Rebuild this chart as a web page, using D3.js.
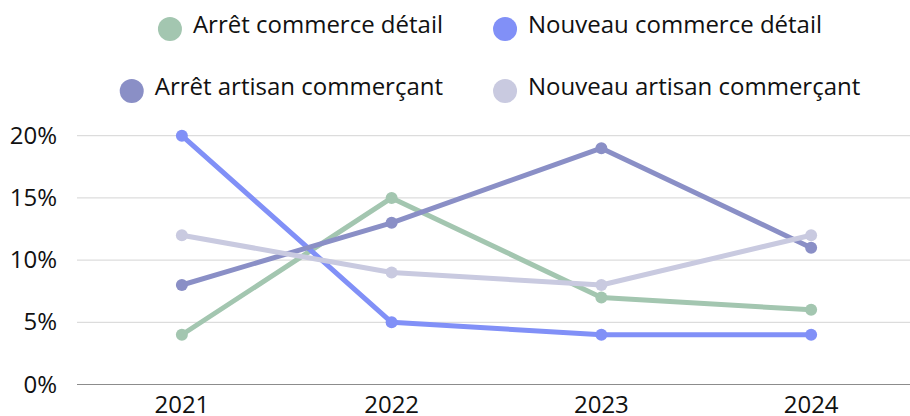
<!DOCTYPE html>
<html>
<head>
<meta charset="utf-8">
<script src="https://cdn.jsdelivr.net/npm/d3@7"></script>
<style>
  body { margin: 0; background: #fff; }
  svg { display: block; font-family: "Open Sans", "Noto Sans", sans-serif; }
</style>
</head>
<body>
<div class="container"></div>
<script>
const years = ['2021', '2022', '2023', '2024'];
const seriesNames = ['Arrêt commerce détail', 'Nouveau commerce détail', 'Arrêt artisan commerçant', 'Nouveau artisan commerçant'];
const arretCommerce = [4, 15, 7, 6];
const nouveauCommerce = [20, 5, 4, 4];
const arretArtisan = [8, 13, 19, 11];
const nouveauArtisan = [12, 9, 8, 12];
const yTicks = [0, 5, 10, 15, 20];
const colors = ['#a3c6b0', '#8190f7', '#8a8fc6', '#c9cae0'];

const series = [arretCommerce, nouveauCommerce, arretArtisan, nouveauArtisan]
  .map((values, i) => ({ name: seriesNames[i], color: colors[i], values: values }));

let width = 910,
    height = 416,
    margin = { top: 136, right: 0, bottom: 32, left: 77 };

let svg = d3.select('.container')
  .append('svg')
  .attr('width', width)
  .attr('height', height);

let xScale = d3.scaleBand()
  .domain(years)
  .range([margin.left, 916])
  .padding(0);

let yScale = d3.scaleLinear()
  .domain([0, 20])
  .range([384.5, 135.7]);

// grid lines
svg.append('g')
  .selectAll('line')
  .data(yTicks)
  .enter()
  .append('line')
  .attr('x1', margin.left)
  .attr('x2', width)
  .attr('y1', d => yScale(d))
  .attr('y2', d => yScale(d))
  .attr('stroke', d => d === 0 ? '#8c8c8c' : '#d4d4d4')
  .attr('stroke-width', d => d === 0 ? 1.2 : 1);

// y axis labels
let yAxis = d3.axisLeft(yScale)
  .tickValues(yTicks)
  .tickFormat(d => d + '%')
  .tickSize(0)
  .tickPadding(20);

svg.append('g')
  .attr('transform', `translate(${margin.left}, 0)`)
  .call(yAxis)
  .call(g => g.select('.domain').remove())
  .call(g => g.selectAll('text')
    .attr('fill', '#111')
    .style('font-size', '24px')
    .style('font-family', '"Open Sans", sans-serif'));

// x axis labels
let xAxis = d3.axisBottom(xScale)
  .tickSize(0)
  .tickPadding(11);

svg.append('g')
  .attr('transform', `translate(0, ${yScale(0)})`)
  .call(xAxis)
  .call(g => g.select('.domain').remove())
  .call(g => g.selectAll('text')
    .attr('fill', '#111')
    .style('font-size', '24px')
    .style('font-family', '"Open Sans", sans-serif'));

let line = d3.line()
  .x((d, i) => xScale(years[i]) + xScale.bandwidth() / 2)
  .y(d => yScale(d));

let lines = svg.append('g')
  .selectAll('g')
  .data(series)
  .enter()
  .append('g');

lines.append('path')
  .attr('d', d => line(d.values))
  .attr('fill', 'none')
  .attr('stroke', d => d.color)
  .attr('stroke-width', 5)
  .attr('stroke-linejoin', 'round');

lines.selectAll('circle')
  .data(d => d.values.map((v, i) => ({ v: v, i: i, color: d.color })))
  .enter()
  .append('circle')
  .attr('cx', d => xScale(years[d.i]) + xScale.bandwidth() / 2)
  .attr('cy', d => yScale(d.v))
  .attr('r', 6)
  .attr('fill', d => d.color);

// legend: two centered rows
let legendRows = [[0, 1], [2, 3]],
    rowY = [29, 91],
    centerX = 490,
    itemGap = 50,
    r = 12,
    textGap = 11;

legendRows.forEach((row, ri) => {
  let g = svg.append('g');
  let items = row.map(idx => {
    let item = g.append('g');
    item.append('circle')
      .attr('r', r)
      .attr('cx', r)
      .attr('cy', rowY[ri])
      .attr('fill', series[idx].color);
    let t = item.append('text')
      .attr('x', 2 * r + textGap)
      .attr('y', rowY[ri] + 4)
      .attr('fill', '#111')
      .style('font-size', '24px')
      .text(series[idx].name);
    return { item: item, w: 2 * r + textGap + t.node().getComputedTextLength() };
  });
  let total = d3.sum(items, d => d.w) + itemGap * (items.length - 1);
  let x = centerX - total / 2;
  items.forEach(d => {
    d.item.attr('transform', `translate(${x}, 0)`);
    x += d.w + itemGap;
  });
});
</script>
</body>
</html>
